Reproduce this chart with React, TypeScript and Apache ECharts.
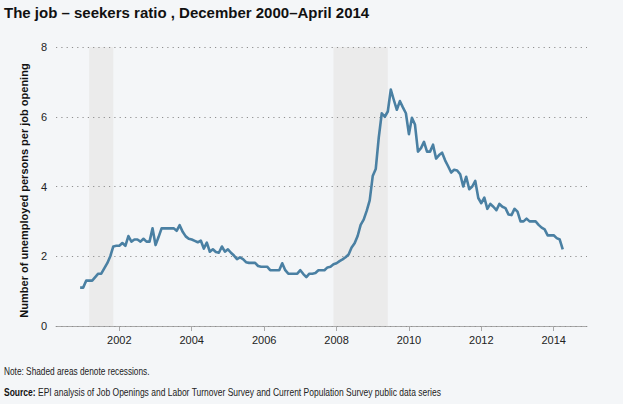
import React, { useEffect, useRef } from "react";
import * as echarts from "echarts";

// Job-seekers ratio (unemployed persons per job opening), monthly
const ratio2000 = [1.1]; // Dec 2000
const ratio2001 = [1.1, 1.3, 1.3, 1.3, 1.4, 1.5, 1.5, 1.65, 1.8, 2.0, 2.28, 2.3];
const ratio2002 = [2.3, 2.38, 2.3, 2.58, 2.42, 2.48, 2.48, 2.42, 2.5, 2.42, 2.42, 2.8];
const ratio2003 = [2.32, 2.55, 2.8, 2.8, 2.8, 2.8, 2.8, 2.73, 2.89, 2.7, 2.57, 2.5];
const ratio2004 = [2.48, 2.44, 2.4, 2.45, 2.22, 2.39, 2.13, 2.2, 2.12, 2.1, 2.28, 2.13];
const ratio2005 = [2.2, 2.1, 2.02, 1.92, 1.97, 1.92, 1.83, 1.81, 1.81, 1.81, 1.72, 1.7];
const ratio2006 = [1.7, 1.7, 1.6, 1.6, 1.6, 1.6, 1.8, 1.6, 1.5, 1.5, 1.5, 1.5];
const ratio2007 = [1.6, 1.49, 1.4, 1.5, 1.5, 1.52, 1.6, 1.6, 1.6, 1.68, 1.7, 1.77];
const ratio2008 = [1.8, 1.86, 1.91, 1.97, 2.05, 2.25, 2.37, 2.58, 2.9, 3.05, 3.3, 3.6];
const ratio2009 = [4.3, 4.5, 5.4, 6.1, 6.0, 6.15, 6.78, 6.48, 6.2, 6.45, 6.27, 6.1];
const ratio2010 = [5.5, 5.97, 5.78, 5.0, 5.1, 5.28, 5.0, 5.0, 5.2, 4.8, 4.9, 4.97];
const ratio2011 = [4.75, 4.58, 4.4, 4.48, 4.46, 4.35, 4.0, 4.28, 3.92, 4.0, 4.16, 3.67];
const ratio2012 = [3.52, 3.68, 3.36, 3.5, 3.42, 3.32, 3.5, 3.42, 3.38, 3.2, 3.18, 3.36];
const ratio2013 = [3.28, 3.0, 3.0, 3.08, 3.0, 3.0, 3.0, 2.9, 2.82, 2.77, 2.6, 2.6];
const ratio2014 = [2.6, 2.52, 2.48, 2.2]; // Jan–Apr 2014

// Recessions [start, end] as "YYYY-MM"
const recessions = [
  ["2001-03", "2001-11"],
  ["2007-12", "2009-06"],
];

const xTickYears = [2002, 2004, 2006, 2008, 2010, 2012, 2014];
const yTicks = [0, 2, 4, 6, 8];

const titleText = "The job \u2013 seekers ratio , December 2000\u2013April 2014";
const yAxisTitle = "Number of unemployed persons per job opening";
const noteText = "Note: Shaded areas denote recessions.";
const sourceText =
  "EPI analysis of Job Openings and Labor Turnover Survey and Current Population Survey public data series";

const SANS = '"Liberation Sans", Arial, sans-serif';

function toPoints(year: number, firstMonth: number, vals: number[]) {
  return vals.map((v, k) => [year + (firstMonth + k) / 12, v]);
}
function ym(s: string) {
  const [y, m] = s.split("-").map(Number);
  return y + (m - 1) / 12;
}

export default function App() {
  const ref = useRef<HTMLDivElement>(null);
  useEffect(() => {
    document.body.style.margin = "0";
    const chart = echarts.init(ref.current!, null, { renderer: "svg" });
    const data = [
      ...toPoints(2000, 11, ratio2000),
      ...toPoints(2001, 0, ratio2001),
      ...toPoints(2002, 0, ratio2002),
      ...toPoints(2003, 0, ratio2003),
      ...toPoints(2004, 0, ratio2004),
      ...toPoints(2005, 0, ratio2005),
      ...toPoints(2006, 0, ratio2006),
      ...toPoints(2007, 0, ratio2007),
      ...toPoints(2008, 0, ratio2008),
      ...toPoints(2009, 0, ratio2009),
      ...toPoints(2010, 0, ratio2010),
      ...toPoints(2011, 0, ratio2011),
      ...toPoints(2012, 0, ratio2012),
      ...toPoints(2013, 0, ratio2013),
      ...toPoints(2014, 0, ratio2014),
    ];
    chart.setOption({
      animation: false,
      backgroundColor: "#f4f6f8",
      grid: { left: 56, right: 36, top: 47, bottom: 78 },
      xAxis: {
        type: "value",
        min: 2000.25,
        max: 2014.92,
        z: 1,
        axisLine: { show: true, lineStyle: { color: "#a9a9a9", width: 1 } },
        axisTick: {
          show: true,
          customValues: xTickYears,
          length: 5,
          lineStyle: { color: "#a9a9a9" },
        },
        axisLabel: {
          customValues: xTickYears,
          formatter: (v: number) => String(Math.round(v)),
          margin: 8,
          color: "#222",
          fontSize: 11,
          fontFamily: SANS,
        },
        splitLine: { show: false },
      },
      yAxis: {
        type: "value",
        min: 0,
        max: 8,
        interval: 2,
        z: 3,
        name: yAxisTitle,
        nameLocation: "middle",
        nameGap: 19,
        nameTextStyle: {
          fontFamily: SANS,
          fontWeight: "bold",
          fontSize: 11,
          color: "#111",
          padding: [0, 8, 0, 0],
        },
        axisLine: { show: false },
        axisTick: { show: false },
        axisLabel: {
          margin: 9,
          color: "#222",
          fontSize: 11,
          fontFamily: SANS,
          customValues: yTicks,
        },
        splitLine: {
          show: true,
          lineStyle: { color: "#8f8f8f", width: 1, type: [1.2, 4.1] },
        },
      },
      series: [
        {
          type: "line",
          z: 1,
          silent: true,
          data: [],
          markArea: {
            silent: true,
            itemStyle: { color: "#ebebeb" },
            data: recessions.map(([a, b]) => [{ xAxis: ym(a) }, { xAxis: ym(b) }]),
          },
        },
        {
          type: "line",
          z: 4,
          data,
          showSymbol: false,
          symbol: "none",
          lineStyle: { color: "#4a80a3", width: 2.6, join: "round" },
        },
      ],
      graphic: [
        {
          type: "text",
          x: 4,
          y: 12,
          style: {
            text: titleText,
            font: "bold 15px " + SANS,
            fill: "#111",
            verticalAlign: "middle",
          },
        },
        {
          type: "text",
          x: 4,
          y: 372,
          scaleX: 0.83,
          style: {
            text: noteText,
            font: "10px " + SANS,
            fill: "#222",
            verticalAlign: "middle",
          },
        },
        {
          type: "text",
          x: 4,
          y: 393,
          scaleX: 0.85,
          style: {
            text: "{b|Source:} " + sourceText,
            font: "10px " + SANS,
            fill: "#222",
            verticalAlign: "middle",
            rich: {
              b: { fontWeight: "bold", fontFamily: SANS, fontSize: 10, fill: "#111" },
            },
          },
        },
      ],
    });
    return () => chart.dispose();
  }, []);
  return (
    <div
      ref={ref}
      style={{ position: "absolute", left: 0, top: 0, width: 623, height: 404 }}
    />
  );
}
